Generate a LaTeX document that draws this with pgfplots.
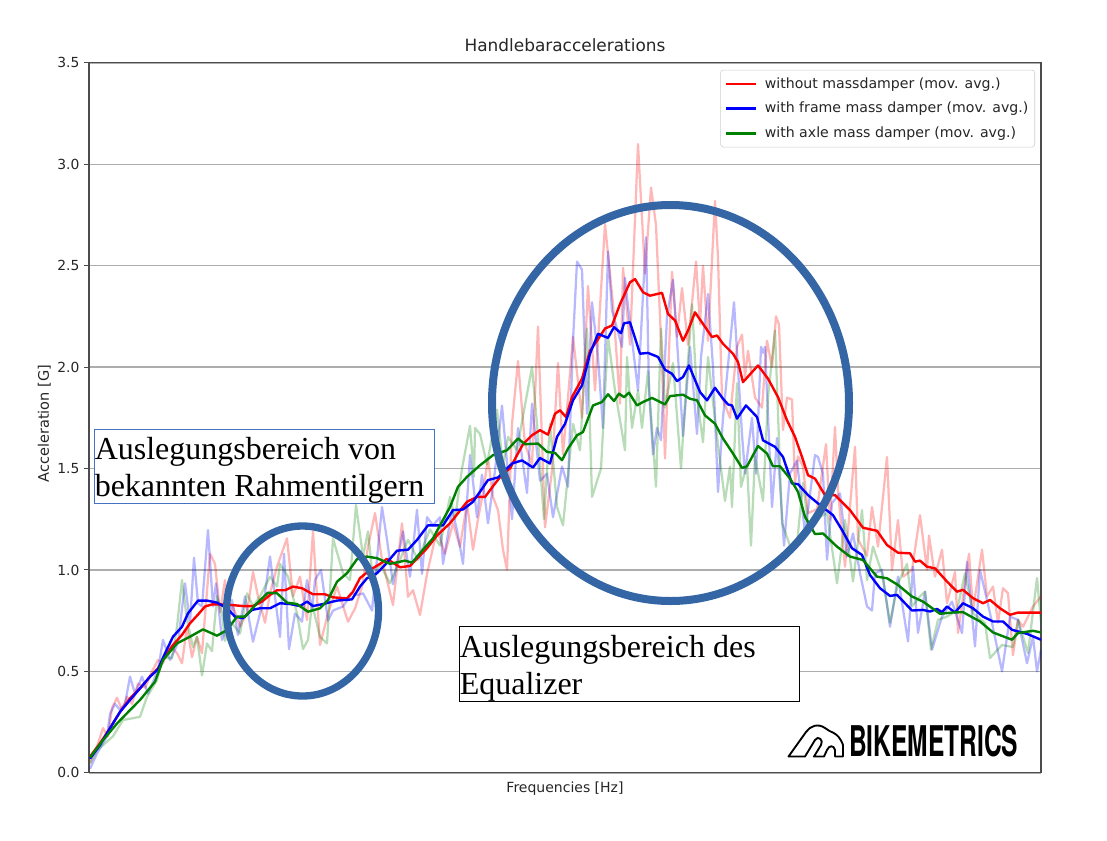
\documentclass[border=0pt]{standalone}
\usepackage{fontspec}
\setmainfont{DejaVu Sans}
\newfontfamily\boxfont{Liberation Serif}
\newfontfamily\logofont{TeX Gyre Heros}
\usepackage{pgfplots}
\pgfplotsset{compat=1.18}

% x values are positions along the (unlabelled) frequency axis
\definecolor{ringblue}{RGB}{52,101,164}
\definecolor{mplgreen}{RGB}{0,128,0}
\definecolor{boxblue}{RGB}{68,114,196}

\pgfplotsset{
  raw/.style={line width=1.7pt, opacity=0.28, forget plot, line join=round},
  avg/.style={line width=1.8pt, line join=round},
}

\begin{document}
\begin{tikzpicture}
\begin{axis}[
  at={(66.75pt,-579.6pt)}, anchor=south west,
  scale only axis, width=714pt, height=532.5pt,
  xmin=89, xmax=1041, ymin=0, ymax=3.5,
  xtick=\empty,
  ytick={0,0.5,1,1.5,2,2.5,3,3.5},
  ymajorgrids,
  grid style={black!32, line width=1.05pt},
  axis line style={black!70, line width=1pt},
  tick style={black!70, line width=0.8pt},
  ytick align=outside, tick pos=left,
  major tick length=3.7pt,
  tick label style={font=\fontsize{10.4}{12}\selectfont, black!85},
  /pgf/number format/assume math mode=true,
  /pgf/number format/fixed, /pgf/number format/fixed zerofill, /pgf/number format/precision=1,
  title={Handlebaraccelerations},
  title style={at={(axis description cs:0.5,1.024)}, anchor=center, yshift=-5.5pt, font=\fontsize{12.7}{14}\selectfont, black!85},
  xlabel={Frequencies [Hz]},
  every axis x label/.style={at={(axis description cs:0.5,-0.0197)}, anchor=center, yshift=-1.2pt, font=\fontsize{10.5}{12}\selectfont, black!85},
  ylabel={Acceleration [G]},
  every axis y label/.style={at={(axis description cs:-0.047,0.492)}, rotate=90, anchor=center, font=\fontsize{10.9}{12}\selectfont, black!85},
  legend style={at={(0.9937,0.990)}, anchor=north east, draw=black!20, rounded corners=2pt,
    fill=white, font=\fontsize{10.6}{12}\selectfont, text=black!85,
    row sep=5.1pt, inner xsep=2.8pt, inner ysep=3.4pt,
    /tikz/every odd column/.append style={column sep=4pt}},
  legend cell align=left,
  legend image code/.code={\draw[#1] (0pt,0pt) -- (22.5pt,0pt);},
]
% raw traces
\addplot[raw, red] coordinates {(90,.05)(97,.13)(103,.22)(108,.18)(112,.32)(117,.37)(122,.31)(127,.375)(132,.34)(138,.44)(145,.42)(152,.50)(158,.556)(163,.54)(170,.63)(177,.59)(182,.54)(187,.72)(192,.57)(197,.67)(202,.59)(210,1.08)(215,1.03)(220,.79)(225,.95)(228,.75)(233,.82)(240,.72)(247,.79)(253,.99)(258,.87)(265,.74)(270,.885)(277,1.016)(287,1.156)(293,.87)(300,.967)(307,.753)(313,1.19)(320,.63)(328,.786)(337,.918)(348,.745)(355,.81)(362,.918)(368,1.115)(375,1.28)(382,1.05)(393,.827)(402,1.23)(408,.868)(413,.90)(420,.778)(427,.98)(437,1.197)(445,1.08)(453,1.23)(460,1.115)(467,1.33)(473,1.10)(478,1.25)(483,1.38)(488,1.55)(493,1.36)(498,1.295)(503,1.1)(507,1.0)(512,1.72)(518,2.03)(525,1.62)(532,1.52)(538,2.2)(545,1.21)(552,1.49)(558,2.02)(563,1.57)(568,1.85)(573,2.15)(582,1.75)(588,2.4)(595,1.885)(605,2.705)(613,2.31)(620,1.82)(623,2.49)(630,2.11)(638,3.1)(645,2.46)(651,2.885)(656,2.70)(662,2.02)(665,1.55)(672,2.47)(677,2.15)(682,2.39)(688,2.11)(696,2.52)(700,2.21)(703,2.5)(708,2.13)(715,2.82)(718,2.54)(722,1.85)(730,1.75)(737,2.1)(742,2.16)(745,1.95)(748,2.08)(755,1.85)(762,1.8)(767,2.13)(772,2.0)(776,2.25)(779,2.21)(783,1.69)(787,1.85)(792,1.84)(795,1.43)(798,1.56)(803,1.51)(808,1.28)(817,1.30)(826,1.62)(830,1.246)(835,1.705)(838,1.39)(845,1.016)(855,1.607)(858,1.15)(867,1.07)(872,1.31)(878,1.115)(887,1.557)(892,1.0)(898,1.246)(903,.967)(912,1.0)(920,1.27)(927,1.0)(929,1.17)(935,.967)(942,1.1)(947,.836)(955,.99)(958,.689)(969,1.08)(973,.80)(982,1.1)(987,.87)(993,.918)(998,.74)(1003,.91)(1008,.885)(1013,.58)(1018,.754)(1023,.72)(1033,.82)(1041,.87)};
\addplot[raw, blue] coordinates {(90,.02)(97,.095)(107,.18)(110,.29)(115,.34)(120,.31)(125,.34)(130,.474)(135,.39)(142,.474)(148,.39)(158,.507)(163,.655)(170,.556)(178,.64)(185,.934)(190,.737)(194,1.06)(198,.835)(202,.82)(208,1.197)(213,.82)(216,.934)(222,.655)(227,.72)(232,.852)(238,.68)(245,.87)(253,.646)(260,.786)(265,.885)(270,1.066)(275,.868)(280,.67)(284,1.08)(289,.61)(295,.786)(302,.745)(307,.95)(312,.80)(315,.95)(321,1.0)(328,.75)(333,.80)(343,.82)(352,.885)(358,.877)(363,.885)(372,.80)(382,1.31)(387,1.15)(393,.93)(403,1.19)(410,.967)(417,1.296)(422,.98)(427,1.26)(433,1.22)(440,1.26)(443,1.03)(452,1.296)(457,1.197)(463,1.03)(470,1.566)(477,1.26)(482,1.47)(488,1.23)(495,1.49)(502,1.81)(512,1.25)(518,1.70)(527,1.38)(532,1.82)(540,1.44)(547,1.475)(553,1.26)(562,1.51)(568,1.41)(573,2.13)(577,2.52)(582,2.48)(587,1.77)(592,2.32)(598,2.05)(603,1.70)(608,2.57)(612,2.28)(622,2.1)(625,2.44)(628,2.3)(638,1.885)(646,2.64)(649,1.885)(653,1.57)(657,1.7)(661,1.64)(667,2.25)(673,2.43)(677,2.13)(683,1.66)(690,2.1)(697,1.67)(701,2.05)(708,2.36)(713,2.0)(718,1.385)(723,1.75)(734,2.32)(742,1.67)(745,1.475)(752,1.75)(756,1.475)(761,2.1)(763,2.07)(765,2.1)(772,1.31)(777,1.65)(784,1.12)(790,1.475)(797,1.54)(805,1.18)(815,1.566)(818,1.557)(823,1.475)(827,1.05)(832,1.33)(840,1.377)(847,1.066)(853,1.18)(860,.984)(867,.82)(872,.80)(875,.984)(882,1.0)(890,.72)(898,.967)(908,.648)(913,1.016)(918,.69)(925,.893)(932,.607)(942,.77)(952,.844)(962,.689)(967,1.04)(975,.623)(980,1.0)(990,.787)(1002,.5)(1010,.77)(1018,.754)(1027,.54)(1033,.67)(1037,.5)(1041,.607)};
\addplot[raw, mplgreen] coordinates {(90,.046)(97,.11)(113,.18)(123,.26)(140,.276)(147,.375)(157,.457)(163,.57)(172,.564)(177,.72)(182,.95)(187,.753)(193,.62)(197,.67)(202,.48)(207,.638)(212,.60)(217,.87)(222,.786)(225,.65)(232,.737)(240,.687)(247,.885)(253,.82)(260,.87)(270,.967)(277,.918)(280,1.03)(288,.967)(297,.786)(303,.61)(308,.655)(312,.835)(320,.67)(327,.638)(333,1.156)(343,.984)(350,.95)(356,1.32)(363,1.066)(368,1.19)(373,.95)(380,1.03)(390,.934)(400,1.05)(408,1.148)(418,1.05)(430,1.2)(440,1.12)(450,1.36)(455,1.25)(462,1.5)(470,1.71)(474,1.46)(475,1.70)(480,1.67)(487,1.52)(497,1.79)(503,1.51)(508,1.656)(517,1.59)(523,1.76)(532,2.0)(537,1.72)(544,1.25)(550,1.72)(557,1.31)(563,1.22)(573,1.72)(580,1.59)(587,2.19)(592,1.36)(601,1.5)(608,2.15)(615,1.885)(625,1.59)(627,2.05)(632,1.70)(638,1.885)(642,1.70)(648,1.98)(656,1.41)(661,2.19)(665,1.8)(673,2.02)(681,1.5)(685,1.82)(692,2.31)(697,1.85)(703,1.63)(708,2.05)(715,1.74)(725,1.34)(730,1.51)(732,1.31)(737,1.92)(741,1.41)(747,1.52)(751,1.12)(755,1.56)(763,1.34)(768,1.85)(775,2.18)(782,1.23)(790,1.12)(797,1.13)(803,1.43)(808,1.23)(827,1.28)(837,.934)(845,1.246)(853,.943)(862,1.295)(867,.95)(873,1.115)(882,.984)(890,.74)(898,.934)(907,1.03)(912,.82)(920,.87)(925,.893)(931,.607)(938,.754)(947,.77)(957,.80)(965,.984)(973,.787)(985,.738)(990,.566)(1002,.63)(1013,.62)(1018,.754)(1028,.59)(1037,.96)(1041,.74)};
% moving averages
\addplot[avg, red] coordinates {(90,.08)(100,.145)(110,.22)(120,.30)(130,.367)(140,.416)(150,.474)(158,.515)(165,.572)(173,.63)(182,.68)(190,.737)(198,.78)(205,.82)(212,.83)(222,.83)(232,.827)(243,.822)(253,.822)(262,.844)(270,.877)(277,.90)(285,.90)(293,.918)(302,.91)(313,.88)(325,.88)(333,.865)(347,.86)(353,.893)(360,.96)(370,1.0)(380,1.03)(387,1.055)(400,1.013)(410,1.02)(427,1.107)(437,1.17)(450,1.23)(458,1.28)(467,1.336)(477,1.36)(485,1.36)(495,1.426)(503,1.475)(510,1.5)(517,1.566)(523,1.62)(532,1.664)(540,1.689)(548,1.667)(555,1.77)(560,1.787)(566,1.754)(572,1.852)(582,1.943)(590,2.08)(597,2.13)(605,2.19)(612,2.205)(620,2.31)(630,2.418)(635,2.434)(643,2.369)(650,2.352)(662,2.366)(668,2.262)(675,2.23)(683,2.13)(688,2.18)(695,2.27)(703,2.213)(712,2.148)(717,2.156)(723,2.115)(733,2.066)(738,2.025)(743,1.926)(758,2.008)(768,1.943)(778,1.852)(787,1.738)(795,1.656)(802,1.557)(808,1.467)(815,1.45)(825,1.369)(835,1.369)(850,1.295)(863,1.208)(877,1.193)(887,1.123)(898,1.085)(910,1.082)(915,1.041)(920,1.046)(927,1.016)(935,1.008)(947,.943)(957,.893)(963,.902)(973,.861)(983,.836)(990,.852)(1000,.811)(1010,.779)(1018,.79)(1030,.79)(1041,.79)};
\addlegendentry{without massdamper (mov. avg.)}
\addplot[avg, blue] coordinates {(90,.07)(100,.137)(110,.22)(120,.30)(130,.359)(140,.416)(150,.474)(158,.51)(165,.589)(173,.671)(182,.72)(188,.786)(198,.849)(207,.849)(217,.839)(227,.811)(235,.77)(243,.762)(252,.803)(260,.811)(270,.811)(280,.836)(290,.832)(300,.822)(307,.844)(313,.822)(323,.832)(337,.849)(352,.855)(360,.918)(367,.959)(377,.984)(385,1.025)(397,1.095)(408,1.10)(417,1.148)(428,1.22)(443,1.22)(453,1.295)(463,1.298)(473,1.336)(488,1.443)(498,1.456)(512,1.525)(522,1.54)(533,1.505)(540,1.552)(550,1.525)(557,1.656)(565,1.72)(573,1.836)(582,1.91)(590,2.066)(598,2.164)(608,2.144)(614,2.197)(621,2.167)(624,2.216)(630,2.221)(640,2.066)(648,2.07)(658,2.05)(665,1.987)(672,1.967)(677,1.931)(683,1.951)(689,2.008)(700,1.877)(707,1.836)(715,1.898)(723,1.844)(728,1.816)(732,1.811)(737,1.746)(746,1.811)(757,1.754)(763,1.639)(775,1.607)(783,1.557)(792,1.426)(798,1.423)(808,1.369)(818,1.328)(833,1.27)(842,1.197)(852,1.107)(862,1.074)(870,.975)(880,.91)(890,.872)(897,.877)(912,.80)(923,.803)(930,.795)(937,.808)(942,.792)(947,.82)(955,.79)(963,.836)(973,.811)(983,.77)(993,.746)(1003,.746)(1012,.705)(1027,.685)(1041,.656)};
\addlegendentry{with frame mass damper (mov. avg.)}
\addplot[avg, mplgreen] coordinates {(90,.076)(103,.161)(117,.243)(130,.309)(140,.359)(155,.449)(163,.556)(177,.638)(190,.671)(203,.707)(217,.676)(227,.704)(237,.77)(245,.77)(257,.836)(268,.888)(277,.885)(287,.839)(297,.832)(308,.794)(320,.811)(328,.852)(337,.942)(347,.984)(357,1.053)(367,1.066)(377,1.058)(390,1.03)(405,1.046)(412,1.036)(423,1.10)(433,1.156)(450,1.31)(458,1.41)(467,1.459)(480,1.516)(493,1.566)(507,1.59)(518,1.648)(525,1.62)(538,1.623)(547,1.582)(555,1.577)(562,1.541)(568,1.598)(577,1.664)(583,1.68)(593,1.811)(602,1.828)(608,1.866)(614,1.833)(619,1.869)(624,1.852)(629,1.874)(637,1.811)(643,1.828)(652,1.848)(665,1.816)(670,1.857)(683,1.864)(690,1.844)(697,1.836)(705,1.762)(715,1.721)(723,1.648)(733,1.574)(742,1.503)(747,1.511)(758,1.611)(767,1.574)(773,1.511)(780,1.511)(790,1.451)(798,1.385)(805,1.262)(815,1.177)(823,1.18)(837,1.115)(850,1.066)(863,1.049)(877,.967)(887,.959)(898,.926)(912,.869)(923,.844)(940,.784)(952,.79)(963,.792)(980,.746)(993,.692)(1012,.656)(1018,.689)(1033,.70)(1041,.692)};
\addlegendentry{with axle mass damper (mov. avg.)}
\end{axis}
\begin{scope}[x=0.75pt, y=-0.75pt]
\path[use as bounding box] (0,0) rectangle (1107,840);
% rings
\draw[ringblue, line width=6pt] (670.5,403) ellipse [x radius=178.5, y radius=198];
\draw[ringblue, line width=5.5pt] (302.5,611) ellipse [x radius=76, y radius=85];
% text boxes
\fill[white] (94,429) rectangle (434,503);
\draw[boxblue, line width=0.6pt] (94,429) rectangle (434,503);
\node[anchor=north west, inner sep=0pt, align=left, font=\boxfont\fontsize{24}{27.6}\selectfont] at (94.5,437.5) {Auslegungsbereich von\\bekannten Rahmentilgern};
\fill[white] (459,626) rectangle (799,701);
\draw[black, line width=0.6pt] (459,626) rectangle (799,701);
\node[anchor=north west, inner sep=0pt, align=left, font=\boxfont\fontsize{24}{27.6}\selectfont] at (459.5,635) {Auslegungsbereich des\\Equalizer};
% logo
\draw[black, line width=1.4pt, line join=round, fill=white] (788.5,756.5) -- (806,732) .. controls (810,726) and (818,723) .. (825,728) .. controls (830,733) and (838,731) .. (843,745) -- (843,756.5) -- (835,756.5) -- (835,750) .. controls (834,745) and (829,745) .. (827,750) -- (824,756.5) -- (814,756.5) -- (821,745) .. controls (824,740) and (818,735) .. (815,740) -- (805,756.5) -- cycle;
\node[anchor=west, inner sep=0pt] at (849,741.5) {\resizebox{126.75pt}{23.5pt}{\logofont\bfseries BIKEMETRICS}};
\end{scope}
\end{tikzpicture}
\end{document}
